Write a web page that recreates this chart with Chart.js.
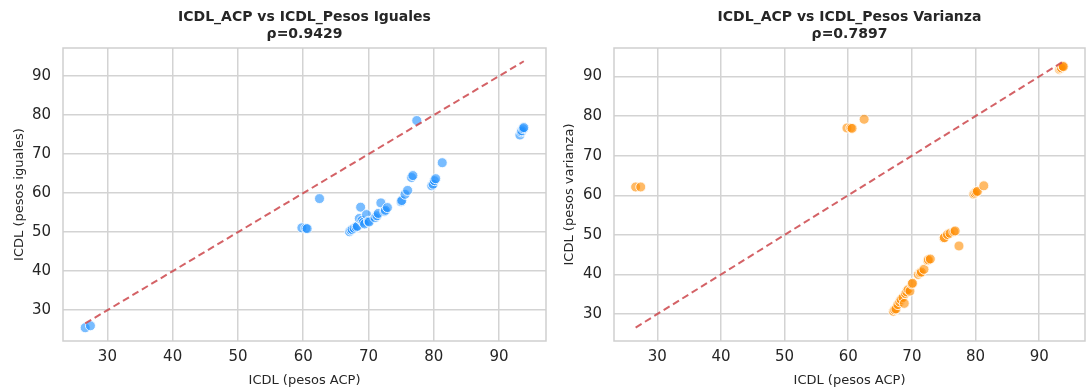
<!DOCTYPE html>
<html>
<head>
<meta charset="utf-8">
<script src="https://cdn.jsdelivr.net/npm/chart.js@4/dist/chart.umd.min.js"></script>
<style>
  html, body { margin: 0; padding: 0; background: #fff; }
  #wrap { position: relative; width: 1086px; height: 388px; overflow: hidden; }
  .box { position: absolute; top: 0; height: 388px; }
  #boxL { left: 0; width: 547px; }
  #boxR { left: 546px; width: 540px; }
</style>
</head>
<body>
<div id="wrap">
  <div class="box" id="boxL"><canvas id="chartIguales"></canvas></div>
  <div class="box" id="boxR"><canvas id="chartVarianza"></canvas></div>
</div>
<script>
// ICDL (pesos ACP) - shared x values
const acpX = [26.6, 27.4, 59.8, 60.4, 60.6, 62.5, 67.1, 67.3, 67.5, 67.8, 68.1, 68.3, 68.6, 68.8,
  69.0, 69.2, 69.4, 69.7, 70.0, 70.1, 71.0, 71.3, 71.5, 71.9, 72.5, 72.6, 72.9, 75.0, 75.1,
  75.6, 76.0, 76.6, 76.8, 77.4, 79.7, 79.9, 80.1, 80.3, 81.3, 93.2, 93.4, 93.5, 93.7, 93.8];
// ICDL (pesos iguales)
const igualesY = [25.5, 26.0, 51.1, 51.0, 50.9, 58.6, 50.1, 50.5, 50.7, 51.0, 51.3, 51.5, 53.5, 56.4,
  53.0, 52.5, 52.1, 54.5, 52.8, 52.6, 53.7, 54.2, 54.8, 57.5, 55.3, 55.6, 56.3, 57.8, 58.1,
  59.7, 60.7, 64.0, 64.5, 78.6, 61.9, 62.3, 63.2, 63.7, 67.8, 74.9, 75.7, 76.0, 76.5, 76.8];
// ICDL (pesos varianza)
const varianzaY = [62.1, 62.1, 77.0, 77.0, 76.9, 79.2, 30.7, 31.1, 31.3, 32.4, 33.1, 33.7, 34.2, 32.7,
  35.2, 35.6, 36.2, 35.8, 37.6, 37.8, 40.0, 40.4, 40.6, 41.3, 43.5, 43.7, 43.9, 49.2, 49.3,
  50.1, 50.4, 50.8, 51.0, 47.2, 60.3, 60.5, 60.8, 61.0, 62.4, 91.8, 92.0, 92.2, 92.6, 92.5];

const tickValues = [30, 40, 50, 60, 70, 80, 90];
const diagEnds = [26.6, 93.8];

const FONT = 'DejaVu Sans';
const TXT = '#262626';
const GRID = '#d3d3d3';

// full frame around the plotting area
const framePlugin = {
  id: 'frame',
  afterDraw(chart) {
    const a = chart.chartArea, ctx = chart.ctx;
    ctx.save();
    ctx.strokeStyle = '#cfcfcf';
    ctx.lineWidth = 1.5;
    ctx.strokeRect(a.left, a.top, a.right - a.left, a.bottom - a.top);
    ctx.restore();
  }
};

function fixTicks(scale) {
  scale.ticks = tickValues.map(v => ({ value: v }));
}

function makeChart(id, yVals, color, title, yTitle, yRange, padLeft, yWidth) {
  const pts = acpX.map((x, i) => ({ x: x, y: yVals[i] }));
  return new Chart(document.getElementById(id), {
    type: 'scatter',
    data: {
      datasets: [
        {
          type: 'line',
          data: diagEnds.map(v => ({ x: v, y: v })),
          borderColor: 'rgba(205, 70, 75, 0.85)',
          borderWidth: 2,
          borderDash: [7, 4],
          pointRadius: 0,
          fill: false,
        },
        {
          data: pts,
          backgroundColor: color,
          borderColor: 'rgba(255, 255, 255, 0.85)',
          borderWidth: 1,
          pointRadius: 5,
        },
      ],
    },
    options: {
      responsive: true,
      maintainAspectRatio: false,
      animation: false,
      layout: { autoPadding: false, padding: { left: padLeft, right: 1, top: 0, bottom: 0 } },
      plugins: {
        legend: { display: false },
        tooltip: { enabled: false },
        title: {
          display: true,
          text: title,
          fullSize: false,
          color: TXT,
          font: { family: FONT, size: 14, weight: 'bold', lineHeight: 1.25 },
          padding: { top: 8.5, bottom: 4.5 },
        },
      },
      scales: {
        x: {
          min: 23.2,
          max: 97.2,
          afterBuildTicks: fixTicks,
          afterFit: s => { s.height = 47; },
          grid: { color: GRID, lineWidth: 1.5, drawTicks: false },
          border: { display: false },
          ticks: {
            color: TXT,
            padding: 7,
            font: { family: FONT, size: 15 },
          },
          title: {
            display: true,
            text: 'ICDL (pesos ACP)',
            color: TXT,
            font: { family: FONT, size: 13 },
            padding: { top: 2, bottom: 0 },
          },
        },
        y: {
          min: yRange[0],
          max: yRange[1],
          afterBuildTicks: fixTicks,
          afterFit: s => { s.width = yWidth; },
          grid: { color: GRID, lineWidth: 1.5, drawTicks: false },
          border: { display: false },
          ticks: {
            color: TXT,
            padding: 12,
            font: { family: FONT, size: 15 },
          },
          title: {
            display: true,
            text: yTitle,
            color: TXT,
            font: { family: FONT, size: 13 },
            padding: { top: 0, bottom: 4 },
          },
        },
      },
    },
    plugins: [framePlugin],
  });
}

makeChart('chartIguales', igualesY, 'rgba(30, 144, 255, 0.6)',
  ['ICDL_ACP vs ICDL_Pesos Iguales', 'ρ=0.9429'], 'ICDL (pesos iguales)', [22.1, 97.2], 12, 51);
makeChart('chartVarianza', varianzaY, 'rgba(255, 140, 0, 0.6)',
  ['ICDL_ACP vs ICDL_Pesos Varianza', 'ρ=0.7897'], 'ICDL (pesos varianza)', [23.2, 97.2], 16, 52);
</script>
</body>
</html>
